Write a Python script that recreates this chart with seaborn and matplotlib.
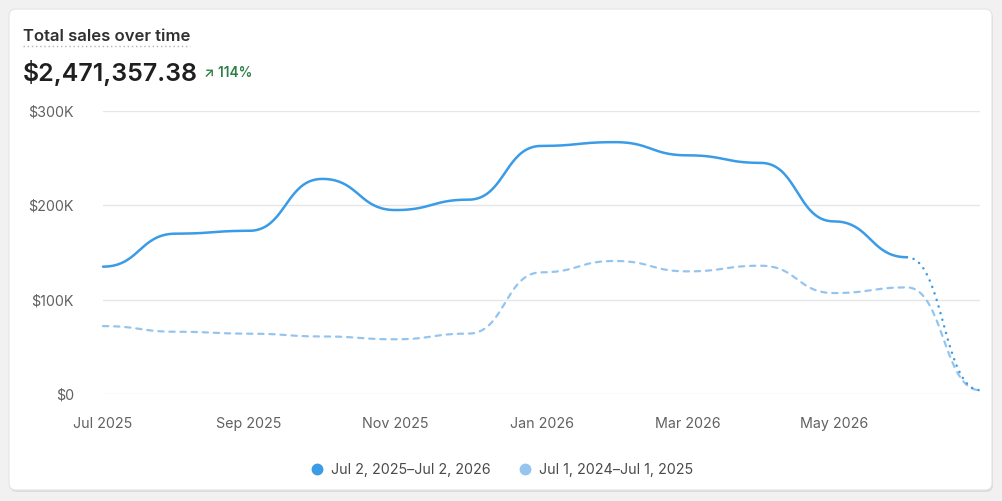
import numpy as np
import pandas as pd
import matplotlib
matplotlib.use('Agg')
import matplotlib.pyplot as plt
from matplotlib.patches import FancyBboxPatch
from matplotlib.lines import Line2D
from matplotlib.transforms import IdentityTransform
import seaborn as sns

# Datos (miles de $), un punto por mes
months = ['Jul 2025', 'Aug 2025', 'Sep 2025', 'Oct 2025', 'Nov 2025', 'Dec 2025', 'Jan 2026',
          'Feb 2026', 'Mar 2026', 'Apr 2026', 'May 2026', 'Jun 2026', 'Jul 2026']
current_sales = [135, 170, 173, 228, 195, 206, 263, 267, 253, 245, 183, 145, 4]
previous_sales = [72, 66, 64, 61, 58, 64, 129, 141, 130, 136, 107, 113, 4]
tick_months = ['Jul 2025', 'Sep 2025', 'Nov 2025', 'Jan 2026', 'Mar 2026', 'May 2026']
y_ticks = [0, 100, 200, 300]
y_labels = ['$0', '$100K', '$200K', '$300K']
legend_labels = ['Jul 2, 2025\u2013Jul 2, 2026', 'Jul 1, 2024\u2013Jul 1, 2025']
title_text = 'Total sales over time'
total_text = '$2,471,357.38'
change_text = '\u2197 114%'

C_CUR = '#3a9be6'
C_PREV = '#95c5ee'
W, H = 1003, 501

sns.set_theme(style='white')
plt.rcParams['font.family'] = ['Inter', 'DejaVu Sans']


def step_rounded(values, start=0, n=40):
    # curva "bump" horizontal: tangente plana en cada punto
    t = np.linspace(0, 1, n)
    xs, ys = [], []
    for i in range(len(values) - 1):
        y0, y1 = values[i], values[i + 1]
        xs.append(start + i + 1.5 * t - 1.5 * t ** 2 + t ** 3)
        ys.append(y0 + (y1 - y0) * (3 * t ** 2 - 2 * t ** 3))
    return pd.DataFrame({'x': np.concatenate(xs), 'y': np.concatenate(ys)})


def fx(px):
    return px / W


def fy(py):
    return 1 - py / H


fig = plt.figure(figsize=(W / 100, H / 100), dpi=100)
fig.patch.set_facecolor('#f1f1f1')

# tarjeta
shadow = FancyBboxPatch((10, 9), 983, 481, boxstyle='round,pad=0,rounding_size=7',
                        transform=IdentityTransform(), facecolor='#dcdcdc', edgecolor='none', zorder=-10)
card = FancyBboxPatch((9, 11), 983, 481, boxstyle='round,pad=0,rounding_size=7',
                      transform=IdentityTransform(), facecolor='white', edgecolor='#e4e4e4', lw=0.8, zorder=-9)
fig.patches.extend([shadow, card])

ax = fig.add_axes([fx(103), fy(394), (980 - 103) / W, (394 - 111) / H])
ax.set_facecolor('none')
ax.set_zorder(5)

prev_df = step_rounded(previous_sales)
sns.lineplot(data=prev_df, x='x', y='y', ax=ax, sort=False, estimator=None, color=C_PREV,
             linewidth=1.6, linestyle=(0, (2.4, 2.6)), dash_capstyle='round', clip_on=False)

cur_solid = step_rounded(current_sales[:12])
cur_dotted = step_rounded(current_sales[11:], start=11)
sns.lineplot(data=cur_solid, x='x', y='y', ax=ax, sort=False, estimator=None, color=C_CUR,
             linewidth=1.8, solid_capstyle='round', clip_on=False)
sns.lineplot(data=cur_dotted, x='x', y='y', ax=ax, sort=False, estimator=None, color=C_CUR,
             linewidth=1.8, linestyle=(0, (0.05, 2.7)), dash_capstyle='round', clip_on=False)

ax.set_xlim(0, len(months) - 1)
ax.set_ylim(0, 300)
ax.set_xticks([months.index(m) for m in tick_months])
ax.set_xticklabels(tick_months)
ax.set_yticks(y_ticks)
ax.set_yticklabels(y_labels)
ax.set_xlabel('')
ax.set_ylabel('')
ax.grid(axis='y', color='#e6e6e6', linewidth=1)
ax.grid(axis='x', visible=False)
ax.set_axisbelow(True)
for s in ax.spines.values():
    s.set_visible(False)
ax.tick_params(axis='y', length=0, pad=21, labelsize=10.3, labelcolor='#616161')
ax.tick_params(axis='x', length=0, pad=16.5, labelsize=10.3, labelcolor='#616161')

# encabezado
fig.text(fx(23), fy(41), title_text, fontsize=12, weight='semibold', color='#303030', va='baseline')
fig.add_artist(Line2D([fx(23), fx(190)], [fy(46), fy(46)], transform=fig.transFigure,
                      color='#b4b4b4', lw=1, linestyle=(0, (1, 2))))
fig.text(fx(23), fy(81), total_text, fontsize=18, weight='semibold', color='#1f1f1f', va='baseline')
fig.text(fx(204), fy(77), change_text, fontsize=9.8, weight='semibold', color='#2f8046',
         va='baseline', family=['Inter', 'DejaVu Sans'])

# leyenda
handles = [Line2D([], [], marker='o', linestyle='none', markersize=7.5, color=C_CUR),
           Line2D([], [], marker='o', linestyle='none', markersize=7.5, color=C_PREV)]
leg = fig.legend(handles, legend_labels, loc='center', bbox_to_anchor=(fx(502), fy(470)), ncol=2,
                 frameon=False, fontsize=10.3, handlelength=0.8, handletextpad=0.6, columnspacing=2.0)
for t in leg.get_texts():
    t.set_color('#4a4a4a')

fig.savefig('out.png', dpi=100, facecolor=fig.get_facecolor())
